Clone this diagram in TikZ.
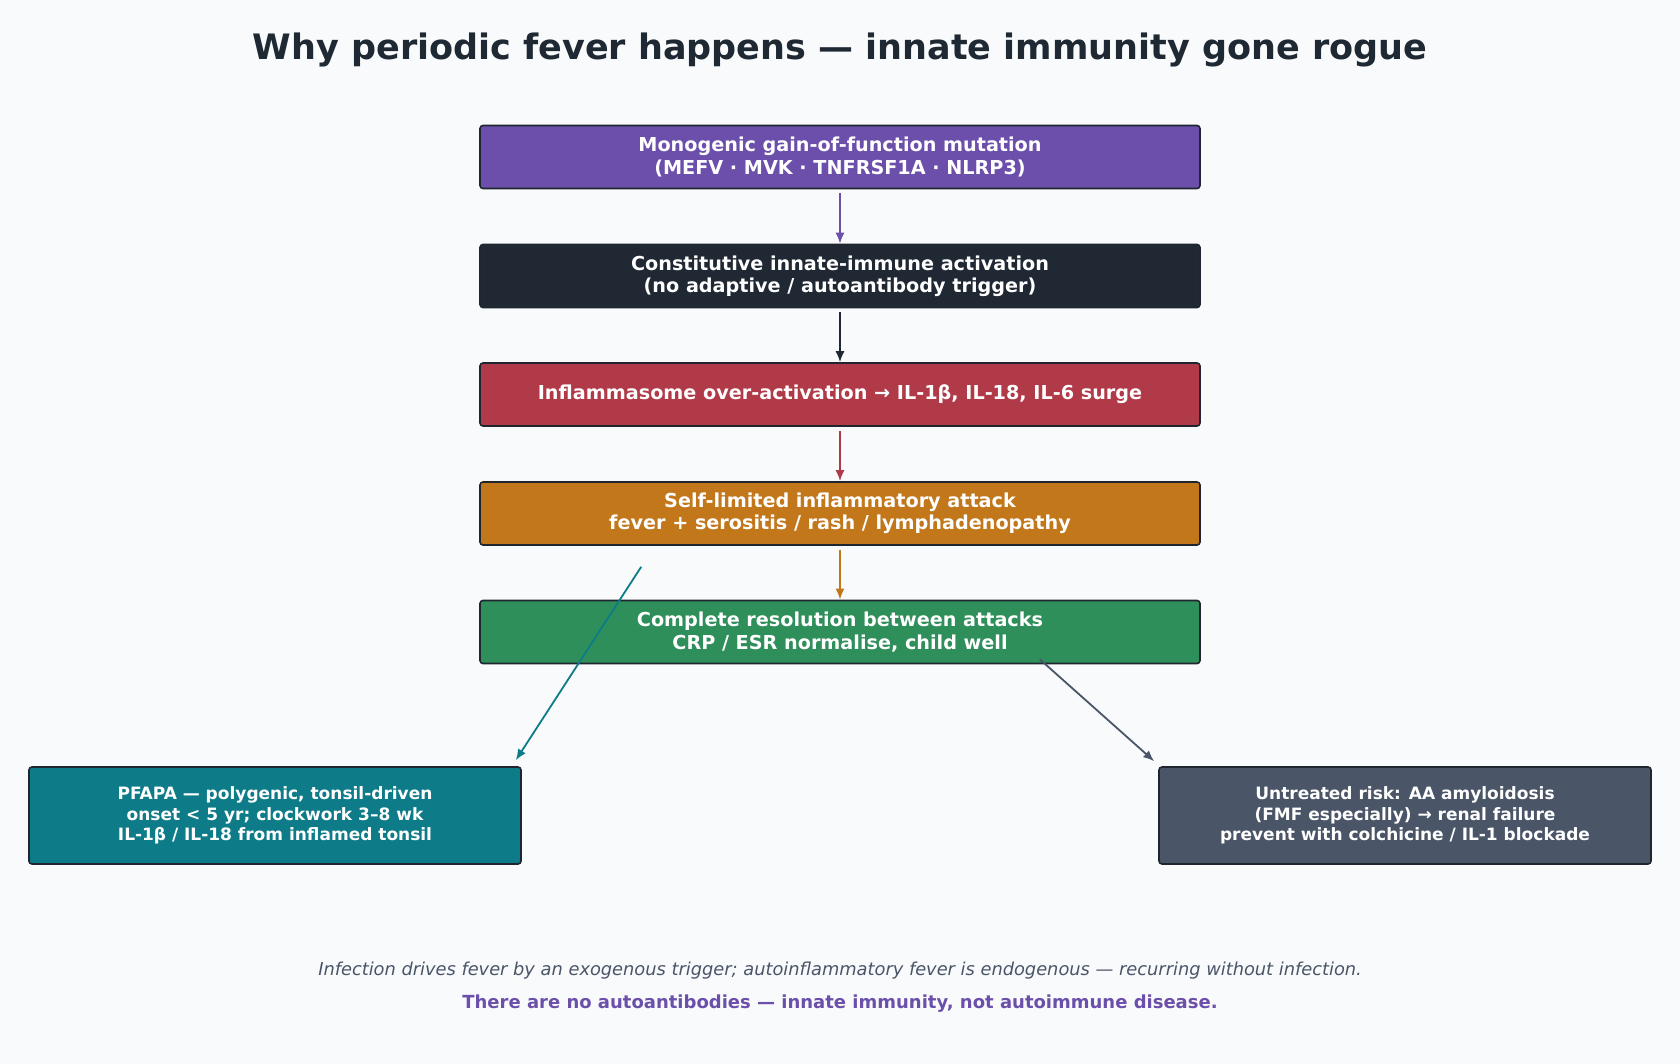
\documentclass[tikz,border=0pt]{standalone}
\usepackage{fontspec}
\setmainfont{DejaVu Sans}
\usetikzlibrary{arrows.meta}

\definecolor{pagebg}{HTML}{F8FAFC}
\definecolor{inkdark}{HTML}{1F2933}
\definecolor{edgeline}{HTML}{1F2630}
\definecolor{genepurple}{HTML}{6B4FAA}
\definecolor{innatedark}{HTML}{1F2833}
\definecolor{surgered}{HTML}{B03A48}
\definecolor{attackorange}{HTML}{C2771B}
\definecolor{resolvegreen}{HTML}{2E8F5A}
\definecolor{pfapateal}{HTML}{0E7C88}
\definecolor{riskslate}{HTML}{4A5568}

\begin{document}
\begin{tikzpicture}[x=0.5pt, y=-0.5pt,
  stage/.style={draw=edgeline, line width=0.8pt, rounded corners=1.5pt,
    text=white, align=center, inner sep=0pt,
    font=\bfseries\fontsize{9.6}{11.2}\selectfont,
    minimum width=360pt, minimum height=31.5pt},
  outcome/.style={stage, minimum width=246pt, minimum height=48.5pt,
    font=\bfseries\fontsize{8.5}{10.1}\selectfont},
  link/.style={-{Latex[length=5.5pt,width=4.5pt]}, line width=0.9pt}]
  \fill[pagebg] (0,0) rectangle (1680,1064);
  \useasboundingbox (0,0) rectangle (1680,1064);

  \node[text=inkdark, font=\bfseries\fontsize{17.5}{20}\selectfont] (title) at (840,50)
    {Why periodic fever happens — innate immunity gone rogue};

  % main cascade
  \node[stage, fill=genepurple] (mutation) at (840,157)
    {Monogenic gain-of-function mutation\\(MEFV · MVK · TNFRSF1A · NLRP3)};
  \node[stage, fill=innatedark] (innate) at (840,276)
    {Constitutive innate-immune activation\\(no adaptive / autoantibody trigger)};
  \node[stage, fill=surgered] (surge) at (840,394.5)
    {Inflammasome over-activation → IL-1β, IL-18, IL-6 surge};
  \node[stage, fill=attackorange] (attack) at (840,513.5)
    {Self-limited inflammatory attack\\fever + serositis / rash / lymphadenopathy};
  \node[stage, fill=resolvegreen] (resolve) at (840,632)
    {Complete resolution between attacks\\CRP / ESR normalise, child well};

  % side outcomes
  \node[outcome, fill=pfapateal] (pfapa) at (275,815.5)
    {PFAPA — polygenic, tonsil-driven\\onset < 5 yr; clockwork 3–8 wk\\IL-1β / IL-18 from inflamed tonsil};
  \node[outcome, fill=riskslate] (risk) at (1405,815.5)
    {Untreated risk: AA amyloidosis\\(FMF especially) → renal failure\\prevent with colchicine / IL-1 blockade};

  \draw[link, genepurple, shorten <=2pt] (mutation) -- (innate);
  \draw[link, innatedark, shorten <=2pt] (innate) -- (surge);
  \draw[link, surgered, shorten <=2pt] (surge) -- (attack);
  \draw[link, attackorange, shorten <=2pt] (attack) -- (resolve);
  \draw[link, pfapateal] ([xshift=81pt, yshift=-10.5pt]attack.south west)
    -- ([xshift=-3pt, yshift=3pt]pfapa.north east);
  \draw[link, riskslate] ([xshift=-80.5pt, yshift=2.5pt]resolve.south east)
    -- ([xshift=-2pt, yshift=2.5pt]risk.north west);

  \node[text=riskslate, font=\itshape\fontsize{8.9}{10}\selectfont] (note) at (840,971)
    {Infection drives fever by an exogenous trigger; autoinflammatory fever is endogenous — recurring without infection.};
  \node[text=genepurple, font=\bfseries\fontsize{9}{10}\selectfont] (moral) at (840,1004)
    {There are no autoantibodies — innate immunity, not autoimmune disease.};
\end{tikzpicture}
\end{document}
